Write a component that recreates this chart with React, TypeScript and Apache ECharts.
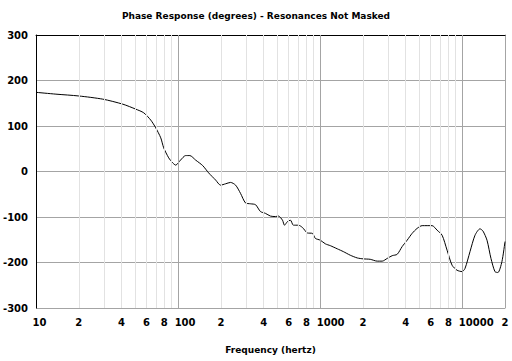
import React, { useEffect, useRef } from "react";
import * as echarts from "echarts";

const frequencies = [10, 13.8, 20, 29.5, 40.8, 50.4, 57.3, 64.2, 69.6, 75.5, 79.2, 85.9, 91.6, 96.2, 104, 113, 121, 133, 149, 164, 184, 199, 216, 234, 254, 275, 298, 324, 351, 380, 412, 447, 484, 509, 543, 561, 589, 618, 648, 703, 750, 813, 882, 925, 1003, 1088, 1179, 1321, 1455, 1629, 1825, 2010, 2252, 2522, 2735, 2965, 3214, 3484, 3777, 4095, 4440, 4815, 5221, 6137, 6654, 7215, 7823, 8482, 9195, 9970, 10463, 11344, 12303, 13335, 14000, 14940, 15930, 16990, 17830, 19030, 20000];
const phases = [174, 170, 166, 159, 148, 137, 129, 113, 96, 74, 52, 30, 19, 14, 25, 35, 35, 25, 13, -3, -19, -30, -27, -24, -30, -48, -69, -71, -73, -88, -92, -98, -99, -98, -107, -118, -110, -107, -118, -118, -123, -135, -136, -147, -151, -159, -163, -170, -176, -184, -190, -192, -193, -197, -197, -191, -185, -182, -165, -151, -136, -125, -119, -119, -129, -140, -173, -206, -217, -220, -213, -176, -140, -126, -131, -151, -191, -220, -222, -198, -154];

const xTickLabels = [10, 20, 40, 60, 80, 100, 200, 400, 600, 800, 1000, 2000, 4000, 6000, 8000, 10000, 20000];
const majorGrid = [100, 1000, 10000];
const minorGrid = [20, 30, 40, 50, 60, 70, 80, 90, 200, 300, 400, 500, 600, 700, 800, 900, 2000, 3000, 4000, 5000, 6000, 7000, 8000, 9000];

const titleText = "Phase Response (degrees) - Resonances Not Masked";
const xAxisTitle = "Frequency (hertz)";

function labelFor(v: number): string {
  const exp = Math.floor(Math.log10(v) + 1e-9);
  const m = Math.round(v / Math.pow(10, exp));
  const s = m === 1 ? String(Math.round(v)) : String(m);
  const key = ["a", "b", "c", "d", "e"][s.length - 1];
  return `{${key}|${s}}`;
}

const DIGIT = 7;
const labelRichBase = { fontFamily: "DejaVu Sans", fontWeight: "bold" as const, fontSize: 10, color: "#000" };
const headStyle = { fontFamily: "DejaVu Sans", fontWeight: "bold" as const, fontSize: 9, color: "#000" };

export default function App() {
  const ref = useRef<HTMLDivElement>(null);
  useEffect(() => {
    if (!ref.current) return;
    const chart = echarts.init(ref.current, null, { renderer: "svg" });
    const data = frequencies.map((f, i) => [f, phases[i]]);
    chart.setOption({
      animation: false,
      backgroundColor: "#fff",
      title: {
        text: titleText,
        left: "center",
        top: 6,
        textStyle: headStyle,
      },
      grid: { left: 35, right: 7, top: 35, bottom: 53, containLabel: false },
      xAxis: [
        {
          type: "log",
          logBase: 10,
          min: 10,
          max: 20000,
          position: "bottom",
          axisLine: { show: false, onZero: false },
          axisTick: { show: false },
          splitLine: { show: false },
          name: xAxisTitle,
          nameLocation: "middle",
          nameGap: 37,
          nameTextStyle: headStyle,
          axisLabel: {
            customValues: xTickLabels,
            formatter: (v: number) => labelFor(v),
            hideOverlap: false,
            showMinLabel: true,
            showMaxLabel: true,
            margin: 9,
            align: "center",
            rich: {
              a: { ...labelRichBase },
              b: { ...labelRichBase, padding: [0, 0, 0, DIGIT] },
              c: { ...labelRichBase, padding: [0, 0, 0, DIGIT * 2] },
              d: { ...labelRichBase, padding: [0, 0, 0, DIGIT * 3] },
              e: { ...labelRichBase, padding: [0, 0, 0, DIGIT * 4] },
            },
          },
        },
        {
          type: "log",
          logBase: 10,
          min: 10,
          max: 20000,
          position: "top",
          axisLine: { show: true, onZero: false, lineStyle: { color: "#000", width: 1 } },
          axisTick: { show: false },
          axisLabel: { show: false },
          splitLine: { show: false },
        },
      ],
      yAxis: [
        {
          type: "value",
          min: -300,
          max: 300,
          interval: 100,
          position: "left",
          axisLine: { show: true, onZero: false, lineStyle: { color: "#000", width: 1 } },
          axisTick: { show: false },
          splitLine: { show: true, lineStyle: { color: "#a4a4a4", width: 1 } },
          axisLabel: {
            margin: 8,
            fontFamily: "DejaVu Sans",
            fontWeight: "bold",
            fontSize: 10,
            color: "#000",
          },
        },
        {
          type: "value",
          min: -300,
          max: 300,
          interval: 100,
          position: "right",
          axisLine: { show: true, onZero: false, lineStyle: { color: "#a4a4a4", width: 1 } },
          axisTick: { show: false },
          axisLabel: { show: false },
          splitLine: { show: false },
        },
      ],
      series: [
        {
          type: "line",
          z: 1,
          data: [],
          silent: true,
          markLine: {
            silent: true,
            symbol: "none",
            label: { show: false },
            animation: false,
            data: [
              ...minorGrid.map((v) => ({ xAxis: v, lineStyle: { color: "#e2e2e2", width: 1, type: "solid" } })),
              ...majorGrid.map((v) => ({ xAxis: v, lineStyle: { color: "#a4a4a4", width: 1, type: "solid" } })),
            ],
          },
        },
        {
          type: "line",
          z: 3,
          data,
          showSymbol: false,
          symbol: "none",
          smooth: 0.25,
          lineStyle: { color: "#000", width: 1 },
        },
      ],
    });
    return () => chart.dispose();
  }, []);
  return <div ref={ref} style={{ position: "fixed", left: 0, top: 0, width: 512, height: 361 }} />;
}
